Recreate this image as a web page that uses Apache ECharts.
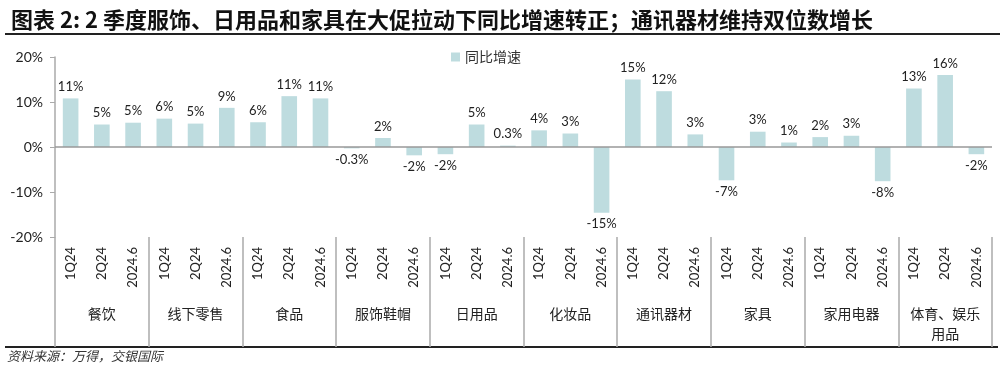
<!DOCTYPE html>
<html>
<head>
<meta charset="utf-8">
<script src="https://cdn.jsdelivr.net/npm/echarts@6/dist/echarts.min.js"></script>
<style>
html,body{margin:0;padding:0;background:#fff;}
#c{width:1003px;height:370px;}
</style>
</head>
<body>
<div id="c"></div>
<script>
// Data
const groups = ['餐饮', '线下零售', '食品', '服饰鞋帽', '日用品', '化妆品', '通讯器材', '家具', '家用电器', '体育、娱乐\n用品'];
const periods = ['1Q24', '2Q24', '2024.6'];
const q1 = [10.8, 6.3, 5.5, -0.3, -1.6, 3.7, 15.0, -7.4, 2.2, 13.0];
const q2 = [5.0, 5.2, 11.3, 2.0, 5.0, 3.0, 12.4, 3.4, 2.5, 16.0];
const jun = [5.4, 8.7, 10.8, -1.85, 0.3, -14.6, 2.8, 1.0, -7.6, -1.6];
const yTicks = [-20, -10, 0, 10, 20];
const seriesName = '同比增速';
const titleText = '图表 2: 2 季度服饰、日用品和家具在大促拉动下同比增速转正；通讯器材维持双位数增长';
const sourceText = '资料来源：万得，交银国际';

const cats = [];
const vals = [];
groups.forEach((g, i) => {
  [q1[i], q2[i], jun[i]].forEach((v, j) => {
    cats.push(periods[j]);
    vals.push(v);
  });
});

const barColor = '#bedcdf';
const latin = 'Lato, "Noto Sans CJK SC", sans-serif';
const cjk = '"Noto Sans CJK SC", sans-serif';

const chart = echarts.init(document.getElementById('c'));
chart.setOption({
  animation: false,
  backgroundColor: '#fff',
  title: {
    text: titleText,
    left: 6, top: 4,
    textStyle: {fontFamily: cjk, fontSize: 22, fontWeight: 'bold', color: '#111'}
  },
  legend: {
    data: [seriesName],
    left: 446, top: 45,
    icon: 'rect', itemWidth: 9, itemHeight: 9, itemGap: 6,
    textStyle: {fontFamily: cjk, fontSize: 14, color: '#333'}
  },
  grid: {left: 55, right: 11, top: 57, bottom: 133, containLabel: false},
  xAxis: [
    {
      type: 'category', data: cats, position: 'bottom',
      axisLine: {show: false, onZero: false},
      axisTick: {show: false},
      axisLabel: {interval: 0, rotate: 90, margin: 10, fontFamily: latin, fontSize: 13, color: '#222'}
    },
    {
      type: 'category', data: groups, position: 'bottom',
      axisLine: {show: false, onZero: false},
      axisTick: {show: true, interval: 0, alignWithLabel: false, length: 110, lineStyle: {color: '#aaa', width: 1.5}},
      axisLabel: {interval: 0, margin: 67, fontFamily: cjk, fontSize: 14, color: '#222', lineHeight: 20, verticalAlign: 'top'}
    }
  ],
  yAxis: {
    type: 'value', min: -20, max: 20, interval: 10,
    axisLine: {show: true, lineStyle: {color: '#aaa', width: 1.5}},
    axisTick: {show: true, length: 5, lineStyle: {color: '#aaa'}},
    splitLine: {show: false},
    axisLabel: {margin: 12, fontFamily: latin, fontSize: 14, color: '#222', formatter: '{value}%'}
  },
  series: [{
    name: seriesName,
    type: 'bar',
    xAxisIndex: 0,
    barWidth: '50%',
    itemStyle: {color: barColor},
    data: vals.map(v => ({
      value: v,
      label: {position: v < 0 ? 'bottom' : 'top'}
    })),
    label: {
      show: true, distance: 5,
      fontFamily: latin, fontSize: 13, color: '#222',
      formatter: p => (Math.abs(p.value) < 1 ? p.value.toFixed(1) : p.value.toFixed(0)) + '%'
    },
    markLine: {
      silent: true, symbol: 'none',
      label: {show: false},
      lineStyle: {color: '#999', width: 1.5, type: 'solid'},
      data: [{yAxis: 0}]
    }
  }],
  graphic: [
    {type: 'line', shape: {x1: 5, y1: 34, x2: 1000, y2: 34}, style: {stroke: '#222', lineWidth: 2}},
    {type: 'line', shape: {x1: 5, y1: 347, x2: 998, y2: 347}, style: {stroke: '#222', lineWidth: 2}},
    {type: 'text', left: 7, top: 350, style: {text: sourceText, fontFamily: cjk, fontSize: 13, fontStyle: 'italic', fill: '#333'}}
  ]
});
</script>
</body>
</html>
